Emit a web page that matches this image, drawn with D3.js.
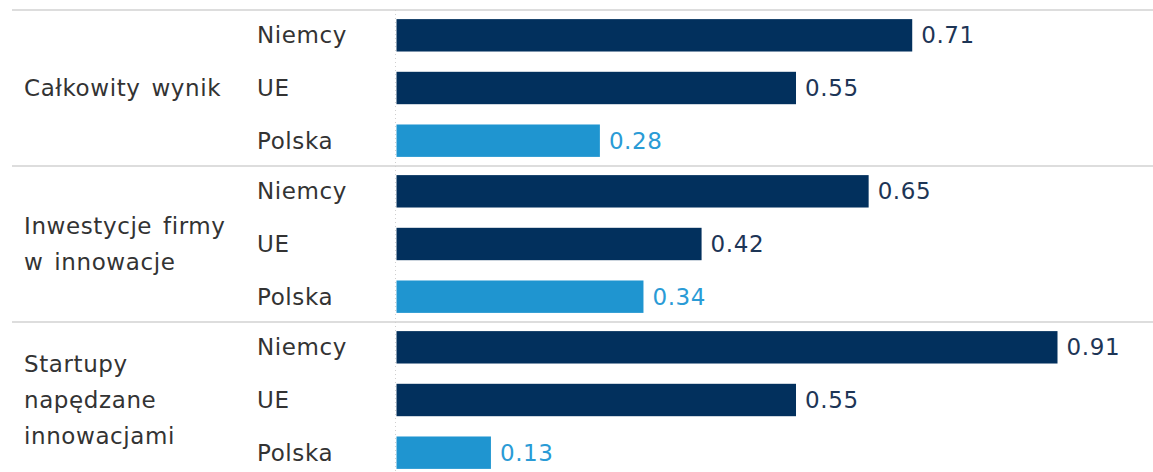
<!DOCTYPE html>
<html>
<head>
<meta charset="utf-8">
<script src="https://cdn.jsdelivr.net/npm/d3@7"></script>
<style>
  html, body { margin: 0; padding: 0; background: #fff; }
  svg { display: block; }
  text { font-family: "DejaVu Sans", "Noto Sans", sans-serif; font-size: 23px; letter-spacing: 0.6px; }
  .group-label tspan { word-spacing: 3px; }
</style>
</head>
<body>
<svg id="chart" width="1153" height="472"></svg>
<script>
// Innovation indicators: Germany, EU and Poland
const groups = [
  ["Całkowity wynik"],
  ["Inwestycje firmy", "w innowacje"],
  ["Startupy", "napędzane", "innowacjami"]
];
const countries = ["Niemcy", "UE", "Polska"];
const valuesNiemcy = [0.71, 0.65, 0.91];
const valuesUE = [0.55, 0.42, 0.55];
const valuesPolska = [0.28, 0.34, 0.13];

const series = { "Niemcy": valuesNiemcy, "UE": valuesUE, "Polska": valuesPolska };
const rows = [];
groups.forEach((g, gi) => {
  countries.forEach(c => rows.push({ group: gi, country: c, value: series[c][gi] }));
});

const W = 1153, H = 472;
const svg = d3.select("#chart");

const gScale = d3.scaleBand().domain(d3.range(groups.length)).range([10, 478]);
const rScale = d3.scaleBand().domain(countries)
  .range([0, gScale.bandwidth()])
  .paddingInner(0.385).paddingOuter(0.173);
const x = d3.scaleLinear().domain([0, 0.91]).range([396.5, 1057.5]);

const barColor = c => c === "Polska" ? "#1f95d0" : "#02305d";
const labelColor = c => c === "Polska" ? "#2a9bd6" : "#1d3556";

// group separators
svg.append("g").selectAll("line")
  .data(d3.range(groups.length))
  .join("line")
  .attr("x1", 12).attr("x2", W)
  .attr("y1", d => gScale(d)).attr("y2", d => gScale(d))
  .attr("stroke", "#d2d2d2").attr("stroke-width", 1.6);

// zero line
svg.append("line")
  .attr("x1", x(0) - 1).attr("x2", x(0) - 1)
  .attr("y1", 10).attr("y2", H)
  .attr("stroke", "#cfcfcf").attr("stroke-width", 1)
  .attr("stroke-dasharray", "1,3");

// group labels
const lineH = 36;
svg.append("g").attr("class", "group-label").selectAll("text")
  .data(groups)
  .join("text")
  .attr("x", 24)
  .attr("y", (d, i) => gScale(i) + gScale.bandwidth() / 2 - (d.length - 1) * lineH / 2)
  .attr("fill", "#333")
  .selectAll("tspan")
  .data(d => d)
  .join("tspan")
  .attr("x", 24)
  .attr("dy", (d, i) => i === 0 ? "0.35em" : lineH)
  .text(d => d);

// row labels
svg.append("g").selectAll("text")
  .data(rows)
  .join("text")
  .attr("x", 257)
  .attr("y", d => gScale(d.group) + rScale(d.country) + rScale.bandwidth() / 2)
  .attr("dy", "0.35em")
  .attr("fill", "#333")
  .text(d => d.country);

// bars
svg.append("g").selectAll("rect")
  .data(rows)
  .join("rect")
  .attr("x", x(0))
  .attr("y", d => gScale(d.group) + rScale(d.country))
  .attr("width", d => x(d.value) - x(0))
  .attr("height", rScale.bandwidth())
  .attr("fill", d => barColor(d.country));

// value labels
svg.append("g").selectAll("text")
  .data(rows)
  .join("text")
  .attr("x", d => x(d.value) + 9)
  .attr("y", d => gScale(d.group) + rScale(d.country) + rScale.bandwidth() / 2)
  .attr("dy", "0.35em")
  .attr("fill", d => labelColor(d.country))
  .text(d => d3.format(".2f")(d.value));
</script>
</body>
</html>
